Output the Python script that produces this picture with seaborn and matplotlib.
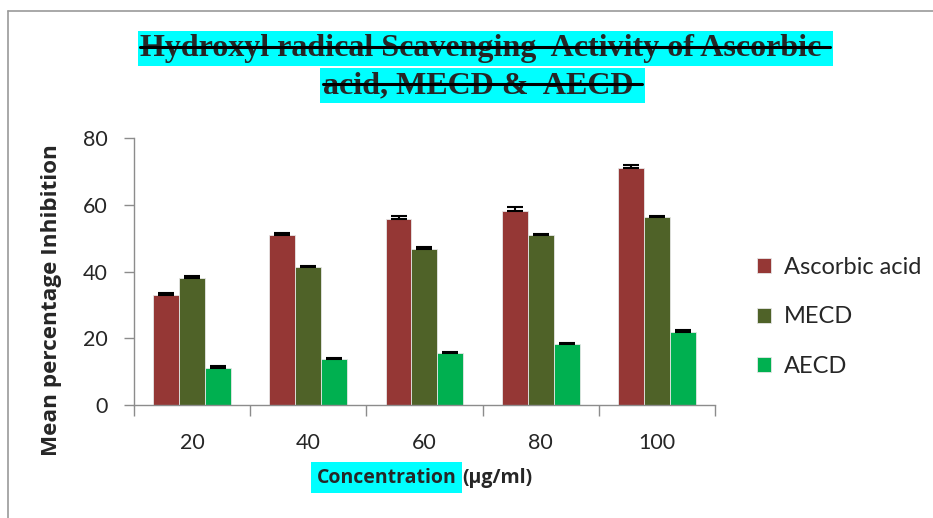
import numpy as np
import pandas as pd
import matplotlib.pyplot as plt
import seaborn as sns
from matplotlib.lines import Line2D

# data
concentrations = ["20", "40", "60", "80", "100"]
ascorbic = [32.9, 50.9, 55.7, 58.2, 71.0]
mecd = [38.0, 41.3, 46.9, 50.8, 56.2]
aecd = [11.1, 13.8, 15.5, 18.3, 21.9]
ascorbic_err = [0.8, 0.5, 0.8, 1.2, 1.0]
mecd_err = [0.7, 0.3, 0.4, 0.5, 0.5]
aecd_err = [0.5, 0.3, 0.3, 0.4, 0.5]
series = ["Ascorbic acid", "MECD", "AECD"]
colors = ["#953735", "#4F6228", "#00B050"]

df = pd.DataFrame({
    "conc": concentrations * 3,
    "value": ascorbic + mecd + aecd,
    "err": ascorbic_err + mecd_err + aecd_err,
    "group": [s for s in series for _ in concentrations],
})

sns.set_style("white")
plt.rcParams["font.family"] = ["Lato", "DejaVu Sans"]

fig = plt.figure(figsize=(9.33, 5.18), dpi=100)
ax = fig.add_axes([0.1436, 0.2181, 0.6227, 0.5154])

sns.barplot(data=df, x="conc", y="value", hue="group", palette=colors,
            width=0.67, ax=ax, errorbar=None, edgecolor="#e6e6e6", linewidth=0.6,
            saturation=1)

# upward error bars
for cont, s in zip(ax.containers, series):
    sub = df[df["group"] == s]
    xs = [p.get_x() + p.get_width() / 2 for p in cont.patches]
    ax.errorbar(xs, sub["value"], yerr=[np.zeros(len(sub)), sub["err"]],
                fmt="none", ecolor="black", elinewidth=1.5, capsize=5.5, capthick=1.5)

ax.set_ylim(0, 80)
ax.set_xlim(-0.5, 4.5)
ax.set_yticks([0, 20, 40, 60, 80])
ax.set_xticks(range(5))
ax.set_xticks(np.arange(-0.5, 5, 1), minor=True)
ax.tick_params(axis="x", which="major", length=0, labelsize=15.5, pad=20)
ax.tick_params(axis="x", which="minor", length=8, color="#8c8c8c", width=1, direction="out")
ax.tick_params(axis="y", length=7, color="#8c8c8c", width=1, direction="out", labelsize=15.5, pad=12)
ax.tick_params(left=True, bottom=True, which="both")
for side in ["top", "right"]:
    ax.spines[side].set_visible(False)
for side in ["left", "bottom"]:
    ax.spines[side].set_color("#8c8c8c")
    ax.spines[side].set_linewidth(1)

ax.set_xlabel("")
ax.set_ylabel("Mean percentage Inhibition", fontsize=16.2, fontweight="bold", family="Open Sans")
ax.yaxis.set_label_coords(-0.124, 0.393)

leg = ax.legend(loc="center left", bbox_to_anchor=(1.035, 0.33), frameon=False,
                fontsize=17, handlelength=0.6, handleheight=0.6, handletextpad=0.55,
                labelspacing=1.2)

# x label with highlighted part
fig.text(0.489, 0.0775, "Concentration", fontsize=14, fontweight="bold", family="Open Sans",
         ha="right", va="center", bbox=dict(facecolor="#00FFFF", edgecolor="none", pad=4))
fig.text(0.495, 0.0775, "(µg/ml)", fontsize=14, fontweight="bold", family="Open Sans",
         ha="left", va="center")

# title, highlighted and struck through
t1 = fig.text(0.52, 0.906, "Hydroxyl radical Scavenging  Activity of Ascorbic ",
              fontsize=23, fontweight="bold", family="Liberation Serif", ha="center", va="center",
              bbox=dict(facecolor="#00FFFF", edgecolor="none", pad=2))
t2 = fig.text(0.517, 0.835, "acid, MECD &  AECD ",
              fontsize=23, fontweight="bold", family="Liberation Serif", ha="center", va="center",
              bbox=dict(facecolor="#00FFFF", edgecolor="none", pad=2))

# outer frame of the chart area (left and top edges)
fx, fy = 8 / 933, 1 - 11 / 518
fig.add_artist(Line2D([fx, fx], [0, fy], transform=fig.transFigure, color="#9a9a9a", linewidth=1.2))
fig.add_artist(Line2D([fx, 1], [fy, fy], transform=fig.transFigure, color="#9a9a9a", linewidth=1.2))

fig.canvas.draw()
r = fig.canvas.get_renderer()
inv = fig.transFigure.inverted()
for t in (t1, t2):
    bb = t.get_window_extent(r)
    (x0, y0), (x1, y1) = inv.transform([(bb.x0, bb.y0), (bb.x1, bb.y1)])
    ym = y0 + (y1 - y0) * 0.55
    fig.add_artist(Line2D([x0, x1], [ym, ym], transform=fig.transFigure, color="black",
                          linewidth=2.2, zorder=10))

fig.savefig("out.png", dpi=100)
